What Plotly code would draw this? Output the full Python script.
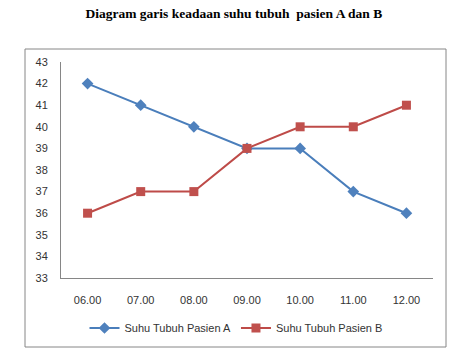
import plotly.graph_objects as go

times = ["06.00", "07.00", "08.00", "09.00", "10.00", "11.00", "12.00"]
pasien_a = [42, 41, 40, 39, 39, 37, 36]
pasien_b = [36, 37, 37, 39, 40, 40, 41]
y_ticks = list(range(33, 44))

W, H = 463, 354
L, R, T, B = 61, 30, 62, 76
pw, ph = W - L - R, H - T - B

def px(x):
    return (x - L) / pw

def py(y):
    return (H - B - y) / ph

fig = go.Figure()
fig.add_trace(go.Scatter(
    x=times, y=pasien_a, mode="lines+markers", name="Suhu Tubuh Pasien A",
    line=dict(color="#4A7EBB", width=2),
    marker=dict(symbol="diamond", size=9, color="#4F81BD"),
))
fig.add_trace(go.Scatter(
    x=times, y=pasien_b, mode="lines+markers", name="Suhu Tubuh Pasien B",
    line=dict(color="#BE4B48", width=2),
    marker=dict(symbol="square", size=9, color="#C0504D"),
))

axis_font = dict(family="Liberation Sans, Arial, sans-serif", size=11, color="#333333")
fig.update_layout(
    width=W, height=H,
    margin=dict(l=L, r=R, t=T, b=B),
    paper_bgcolor="white", plot_bgcolor="white",
    title=dict(text="<b>Diagram garis keadaan suhu tubuh  pasien A dan B</b>",
               x=0.505, xanchor="center", y=1 - 13 / H, yanchor="middle",
               font=dict(family="Liberation Serif, Times New Roman, serif", size=13.5, color="black")),
    xaxis=dict(type="category", range=[-0.5, len(times) - 0.5], showgrid=False, showline=True,
               linecolor="#868686", linewidth=1,
               ticks="", tickfont=axis_font, ticklabelstandoff=12, zeroline=False),
    yaxis=dict(range=[33, 43], tickvals=y_ticks, showgrid=False, showline=True,
               linecolor="#868686", linewidth=1, ticks="", tickfont=axis_font,
               ticklabelstandoff=10, zeroline=False),
    legend=dict(orientation="h", x=px(236), xanchor="center", y=py(328), yanchor="middle",
                font=dict(family="Liberation Sans, Arial, sans-serif", size=11, color="#333333"),
                itemwidth=30, bgcolor="rgba(0,0,0,0)"),
    showlegend=True,
)
fig.add_shape(type="rect", xref="paper", yref="paper",
              x0=px(25), x1=px(446), y0=py(347), y1=py(49),
              line=dict(color="#868686", width=1), fillcolor="rgba(0,0,0,0)", layer="below")

fig.write_html("out.html")
